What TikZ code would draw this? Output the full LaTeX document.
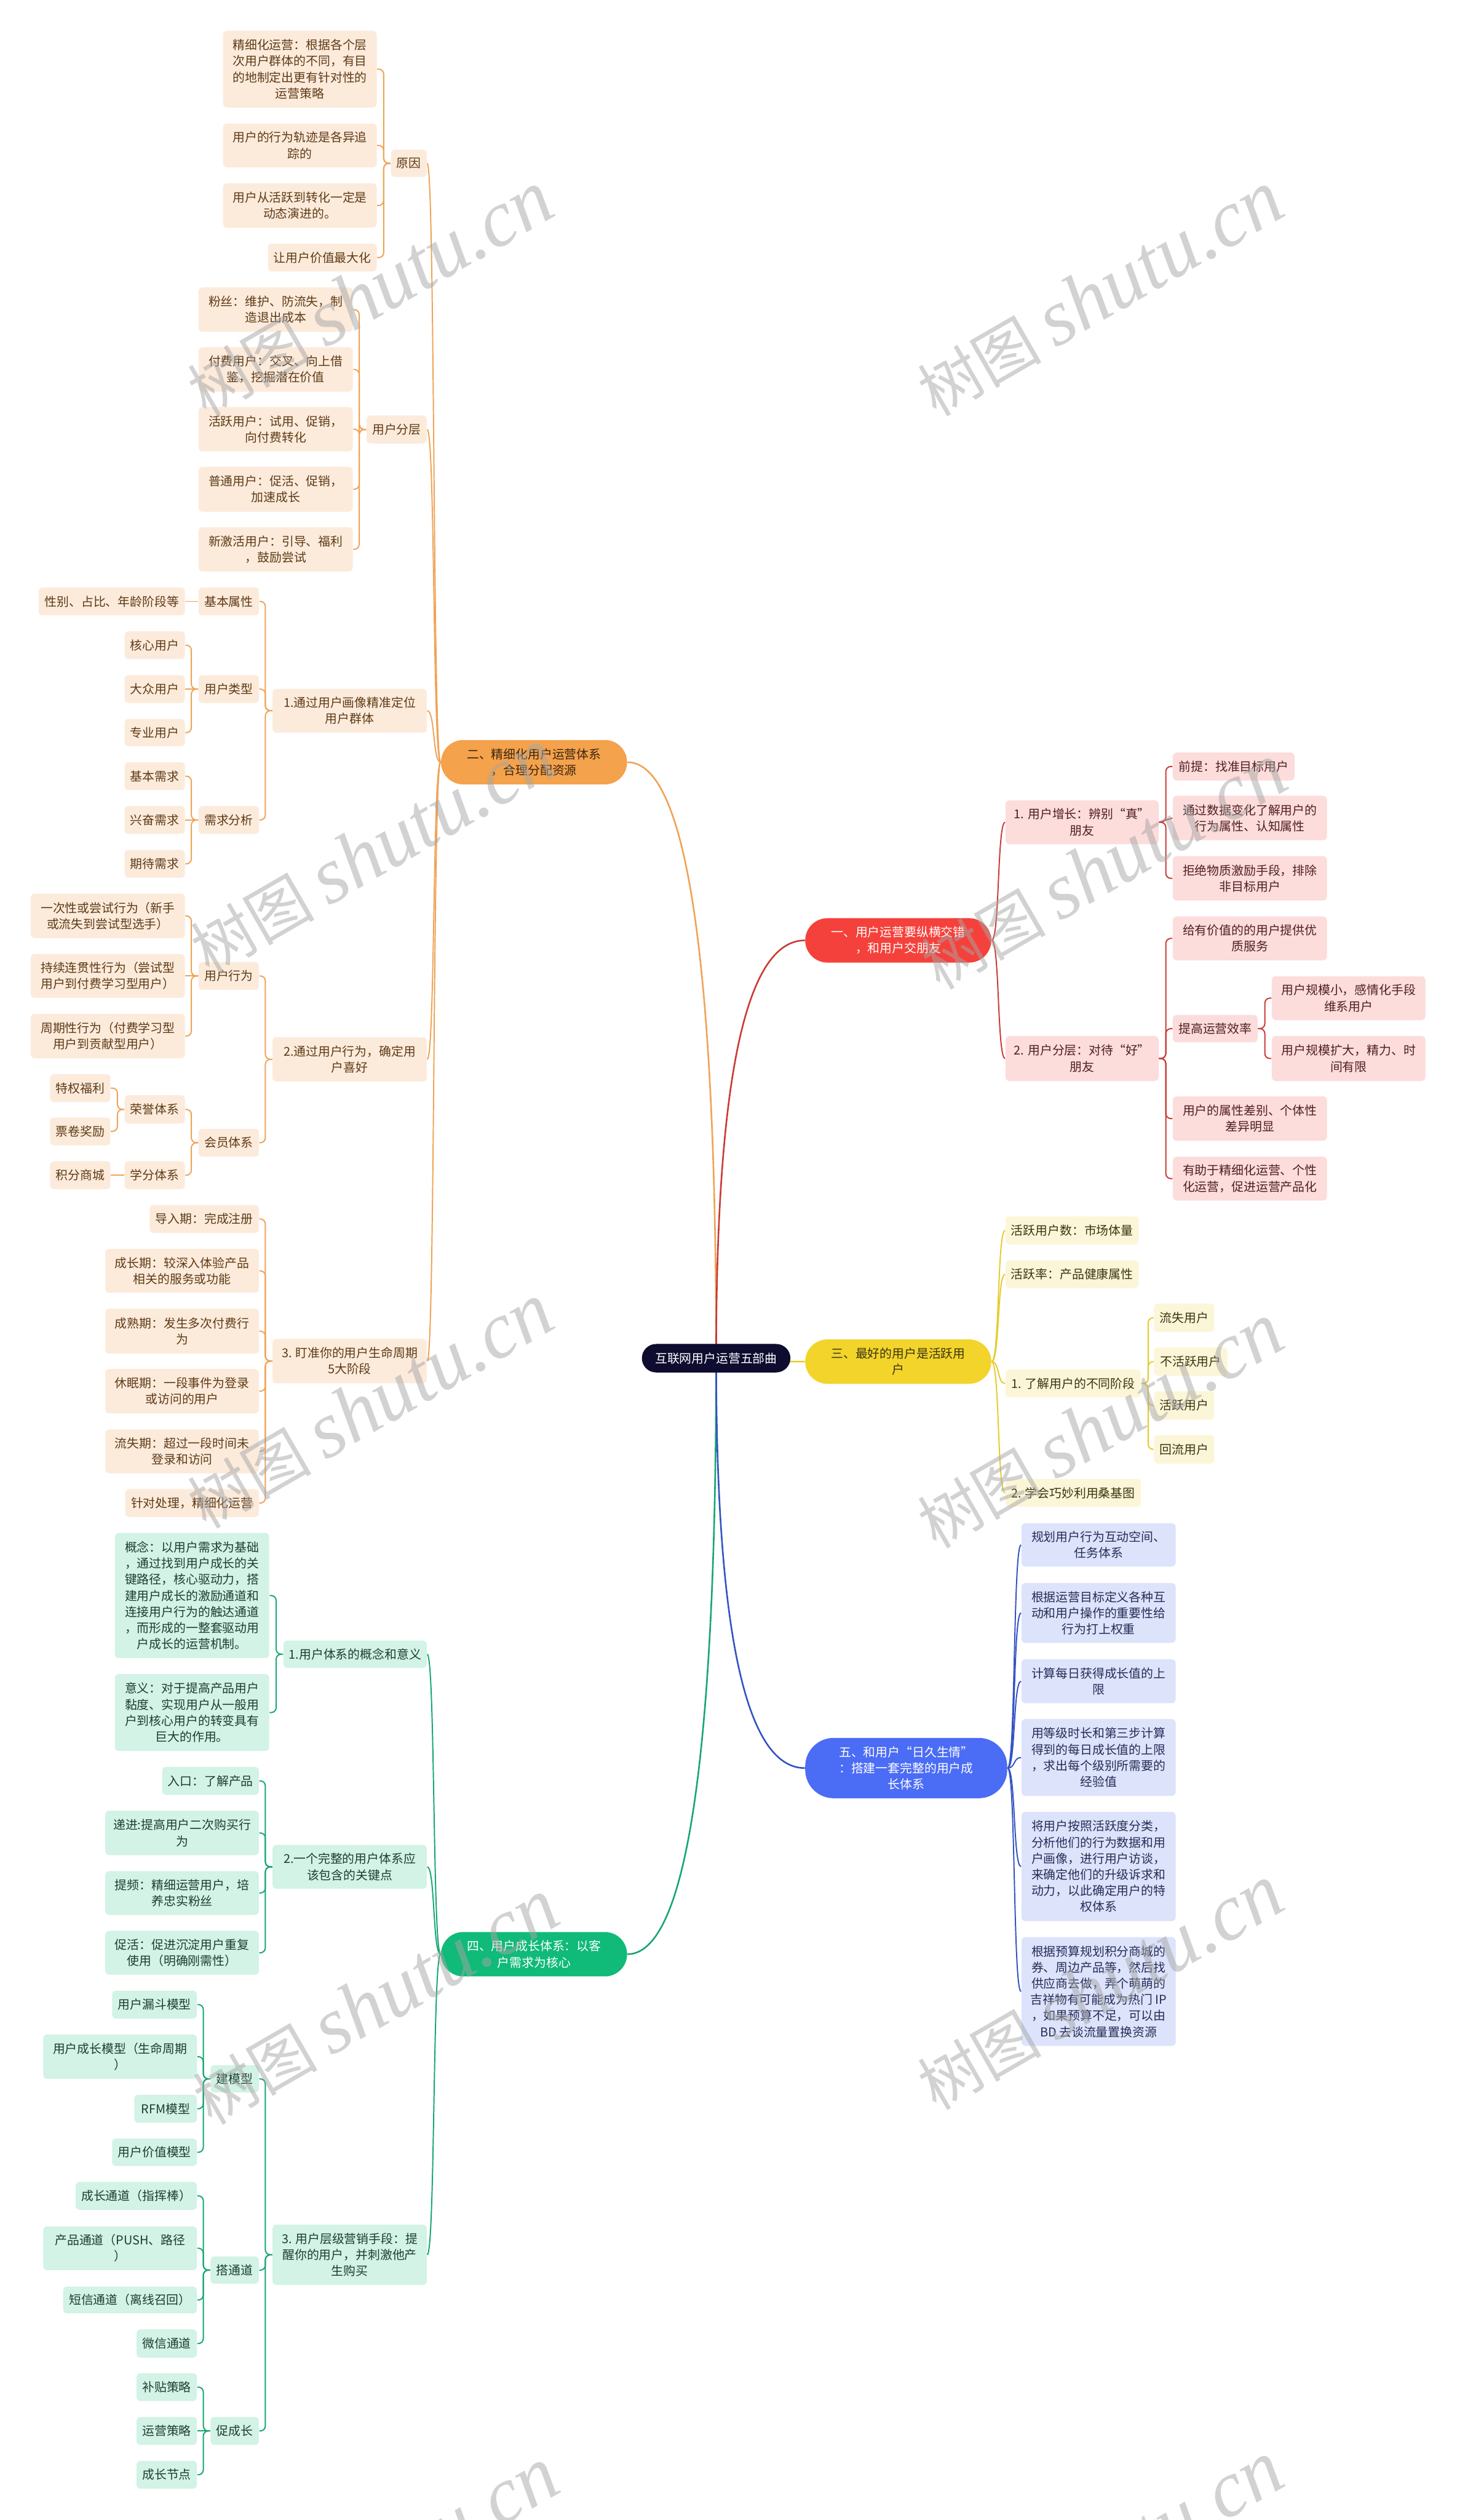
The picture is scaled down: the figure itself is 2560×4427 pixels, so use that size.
\documentclass[tikz,border=0pt]{standalone}
\usepackage{fontspec}
\setmainfont{Noto Sans CJK SC}
\newfontfamily\wmlatin{Liberation Serif}
\usetikzlibrary{calc}
\pgfdeclarelayer{bg}
\pgfsetlayers{bg,main}
\definecolor{oMain}{HTML}{F4A24B}
\definecolor{oLeaf}{HTML}{FCEBDB}
\definecolor{oText}{HTML}{5E3A17}
\definecolor{oDark}{HTML}{3B2410}
\definecolor{oLine}{HTML}{EFA356}
\definecolor{rMain}{HTML}{F5413B}
\definecolor{rLeaf}{HTML}{FDDCDC}
\definecolor{rText}{HTML}{4F1F1F}
\definecolor{rLine}{HTML}{C93A33}
\definecolor{yMain}{HTML}{F2D42B}
\definecolor{yLeaf}{HTML}{FCF6D8}
\definecolor{yText}{HTML}{3A3510}
\definecolor{yLine}{HTML}{E6CB2C}
\definecolor{gMain}{HTML}{10BA79}
\definecolor{gLeaf}{HTML}{D2F3E5}
\definecolor{gText}{HTML}{1F3D32}
\definecolor{gLine}{HTML}{16A673}
\definecolor{bMain}{HTML}{4B6CF5}
\definecolor{bLeaf}{HTML}{DCE3FB}
\definecolor{bText}{HTML}{262C55}
\definecolor{bLine}{HTML}{3352C4}
\definecolor{rootC}{HTML}{0E0C2F}
\newcommand\mnode[7]{\node[#2, minimum width={(#5-#3)*0.01cm}, minimum height={(#6-#4)*0.01cm}] (#1) at ({(#3+#5)/2},{(#4+#6)/2}) {#7};}
\newcommand\linkLB[3]{\draw[#1, rounded corners=2.5pt] (#2.west) -- ++(-12,0) |- (#3.east);}
\newcommand\linkRB[3]{\draw[#1, rounded corners=2.5pt] (#2.east) -- ++(12,0) |- (#3.west);}
\newcommand\linkLS[3]{\draw[#1] (#2.west) -- (#3.east);}
\newcommand\linkRS[3]{\draw[#1] (#2.east) -- (#3.west);}
\newcommand\linkLC[3]{\draw[#1] (#2.west) .. controls ([xshift=-0.14cm]#2.west) and ([xshift=0.14cm]#3.east) .. (#3.east);}
\newcommand\linkRC[3]{\draw[#1] (#2.east) .. controls ([xshift=0.14cm]#2.east) and ([xshift=-0.14cm]#3.west) .. (#3.west);}
\newcommand\linkRoot[2]{\draw[draw=#1, line width=0.8pt] (root.center) .. controls ($(root.center)!0.667!(root.center|-#2)$) and ($(#2)!0.667!(root.center|-#2)$) .. (#2);}
\newcommand\wmark[3]{\node[rotate=30, text=black!35, opacity=0.5, inner sep=0pt] (#1) at (#2,#3) {\fontsize{31}{31}\selectfont 树图 {\wmlatin\itshape\fontsize{40}{40}\selectfont shutu.cn}};}
\begin{document}
\begin{tikzpicture}[x=0.01cm, y=-0.01cm,
  box/.style={inner sep=0pt, align=center, font=\fontsize{6.1}{8.05}\selectfont, rounded corners=0.07cm},
  ol/.style={box, fill=oLeaf, text=oText},
  rl/.style={box, fill=rLeaf, text=rText},
  yl/.style={box, fill=yLeaf, text=yText},
  gl/.style={box, fill=gLeaf, text=gText},
  bl/.style={box, fill=bLeaf, text=bText},
  om/.style={box, fill=oMain, text=oDark, rounded corners=0.39cm},
  rm/.style={box, fill=rMain, text=white, rounded corners=0.39cm},
  ym/.style={box, fill=yMain, text=yText, rounded corners=0.39cm},
  gm/.style={box, fill=gMain, text=white, rounded corners=0.39cm},
  bm/.style={box, fill=bMain, text=white, rounded corners=0.5cm},
  rootm/.style={box, fill=rootC, text=white, rounded corners=0.25cm},
  oc/.style={draw=oLine, line width=0.6pt},
  rc/.style={draw=rLine, line width=0.6pt},
  yc/.style={draw=yLine, line width=0.6pt},
  gc/.style={draw=gLine, line width=0.6pt},
  bc/.style={draw=bLine, line width=0.6pt}]
\begin{pgfonlayer}{bg}
\fill[white] (0,0) rectangle (2560,4427);
\end{pgfonlayer}
\path[use as bounding box] (0,0) rectangle (2560,4427);

% root
\mnode{root}{rootm}{1128}{2361}{1389}{2411}{互联网用户运营五部曲}

% ===== orange branch =====
\mnode{o0}{om}{775}{1300}{1102}{1378}{二、精细化用户运营体系\\，合理分配资源}
\mnode{oA}{ol}{687}{263}{750}{311}{原因}
\mnode{oA1}{ol}{392}{54}{662}{189}{精细化运营：根据各个层\\次用户群体的不同，有目\\的地制定出更有针对性的\\运营策略}
\mnode{oA2}{ol}{392}{217}{662}{294}{用户的行为轨迹是各异追\\踪的}
\mnode{oA3}{ol}{392}{322}{662}{400}{用户从活跃到转化一定是\\动态演进的。}
\mnode{oA4}{ol}{471}{428}{662}{477}{让用户价值最大化}
\mnode{oB}{ol}{644}{730}{750}{779}{用户分层}
\mnode{oB1}{ol}{349}{505}{620}{583}{粉丝：维护、防流失，制\\造退出成本}
\mnode{oB2}{ol}{349}{610}{620}{688}{付费用户：交叉、向上借\\鉴，挖掘潜在价值}
\mnode{oB3}{ol}{349}{715}{620}{793}{活跃用户：试用、促销，\\向付费转化}
\mnode{oB4}{ol}{349}{820}{620}{899}{普通用户：促活、促销，\\加速成长}
\mnode{oB5}{ol}{349}{926}{620}{1004}{新激活用户：引导、福利\\，鼓励尝试}
\mnode{oC}{ol}{479}{1210}{750}{1287}{1.通过用户画像精准定位\\用户群体}
\mnode{oC1}{ol}{349}{1032}{455}{1081}{基本属性}
\mnode{oC1a}{ol}{68}{1032}{325}{1081}{性别、占比、年龄阶段等}
\mnode{oC2}{ol}{349}{1186}{455}{1235}{用户类型}
\mnode{oC2a}{ol}{219}{1109}{325}{1158}{核心用户}
\mnode{oC2b}{ol}{219}{1186}{325}{1235}{大众用户}
\mnode{oC2c}{ol}{219}{1263}{325}{1311}{专业用户}
\mnode{oC3}{ol}{349}{1416}{455}{1465}{需求分析}
\mnode{oC3a}{ol}{219}{1339}{325}{1388}{基本需求}
\mnode{oC3b}{ol}{219}{1416}{325}{1465}{兴奋需求}
\mnode{oC3c}{ol}{219}{1493}{325}{1542}{期待需求}
\mnode{oD}{ol}{479}{1822}{750}{1900}{2.通过用户行为，确定用\\户喜好}
\mnode{oD1}{ol}{349}{1690}{455}{1739}{用户行为}
\mnode{oD1a}{ol}{54}{1570}{325}{1648}{一次性或尝试行为（新手\\或流失到尝试型选手）}
\mnode{oD1b}{ol}{54}{1676}{325}{1753}{持续连贯性行为（尝试型\\用户到付费学习型用户）}
\mnode{oD1c}{ol}{54}{1781}{325}{1859}{周期性行为（付费学习型\\用户到贡献型用户）}
\mnode{oD2}{ol}{349}{1983}{455}{2032}{会员体系}
\mnode{oD2a}{ol}{219}{1924}{325}{1974}{荣誉体系}
\mnode{oD2a1}{ol}{88}{1887}{194}{1936}{特权福利}
\mnode{oD2a2}{ol}{88}{1963}{194}{2012}{票卷奖励}
\mnode{oD2b}{ol}{219}{2040}{325}{2089}{学分体系}
\mnode{oD2b1}{ol}{88}{2040}{194}{2089}{积分商城}
\mnode{oE}{ol}{479}{2352}{750}{2430}{3. 盯准你的用户生命周期\\5大阶段}
\mnode{oE1}{ol}{263}{2117}{455}{2166}{导入期：完成注册}
\mnode{oE2}{ol}{185}{2194}{455}{2271}{成长期：较深入体验产品\\相关的服务或功能}
\mnode{oE3}{ol}{185}{2299}{455}{2378}{成熟期：发生多次付费行\\为}
\mnode{oE4}{ol}{185}{2405}{455}{2483}{休眠期：一段事件为登录\\或访问的用户}
\mnode{oE5}{ol}{185}{2511}{455}{2588}{流失期：超过一段时间未\\登录和访问}
\mnode{oE6}{ol}{220}{2616}{455}{2665}{针对处理，精细化运营}

% ===== green branch =====
\mnode{g0}{gm}{775}{3394}{1102}{3472}{四、用户成长体系：以客\\户需求为核心}
\mnode{gA}{gl}{498}{2882}{750}{2930}{1.用户体系的概念和意义}
\mnode{gA1}{gl}{202}{2693}{473}{2913}{概念：以用户需求为基础\\，通过找到用户成长的关\\键路径，核心驱动力，搭\\建用户成长的激励通道和\\连接用户行为的触达通道\\，而形成的一整套驱动用\\户成长的运营机制。}
\mnode{gA2}{gl}{202}{2941}{473}{3076}{意义：对于提高产品用户\\黏度、实现用户从一般用\\户到核心用户的转变具有\\巨大的作用。}
\mnode{gB}{gl}{479}{3241}{750}{3318}{2.一个完整的用户体系应\\该包含的关键点}
\mnode{gB1}{gl}{285}{3104}{455}{3153}{入口：了解产品}
\mnode{gB2}{gl}{185}{3181}{455}{3259}{递进:提高用户二次购买行\\为}
\mnode{gB3}{gl}{185}{3287}{455}{3364}{提频：精细运营用户，培\\养忠实粉丝}
\mnode{gB4}{gl}{185}{3392}{455}{3469}{促活：促进沉淀用户重复\\使用（明确刚需性）}
\mnode{gC}{gl}{479}{3908}{750}{4014}{3. 用户层级营销手段：提\\醒你的用户，并刺激他产\\生购买}
\mnode{gC1}{gl}{370}{3628}{455}{3676}{建模型}
\mnode{gC1a}{gl}{197}{3497}{346}{3546}{用户漏斗模型}
\mnode{gC1b}{gl}{76}{3574}{346}{3652}{用户成长模型（生命周期\\）}
\mnode{gC1c}{gl}{236}{3680}{346}{3729}{RFM模型}
\mnode{gC1d}{gl}{197}{3757}{346}{3805}{用户价值模型}
\mnode{gC2}{gl}{370}{3964}{455}{4012}{搭通道}
\mnode{gC2a}{gl}{133}{3833}{346}{3882}{成长通道（指挥棒）}
\mnode{gC2b}{gl}{76}{3911}{346}{3988}{产品通道（PUSH、路径\\）}
\mnode{gC2c}{gl}{111}{4017}{346}{4064}{短信通道（离线召回）}
\mnode{gC2d}{gl}{240}{4092}{346}{4142}{微信通道}
\mnode{gC3}{gl}{370}{4246}{455}{4295}{促成长}
\mnode{gC3a}{gl}{240}{4169}{346}{4218}{补贴策略}
\mnode{gC3b}{gl}{240}{4246}{346}{4295}{运营策略}
\mnode{gC3c}{gl}{240}{4323}{346}{4372}{成长节点}

% ===== red branch =====
\mnode{r0}{rm}{1415}{1613}{1742}{1691}{一、用户运营要纵横交错\\，和用户交朋友}
\mnode{rA}{rl}{1767}{1406}{2036}{1483}{1. 用户增长：辨别“真”\\朋友}
\mnode{rA1}{rl}{2061}{1322}{2275}{1371}{前提：找准目标用户}
\mnode{rA2}{rl}{2061}{1398}{2332}{1476}{通过数据变化了解用户的\\行为属性、认知属性}
\mnode{rA3}{rl}{2061}{1504}{2332}{1582}{拒绝物质激励手段，排除\\非目标用户}
\mnode{rB}{rl}{1767}{1820}{2036}{1899}{2. 用户分层：对待“好”\\朋友}
\mnode{rB1}{rl}{2061}{1610}{2332}{1687}{给有价值的的用户提供优\\质服务}
\mnode{rB2}{rl}{2061}{1783}{2210}{1831}{提高运营效率}
\mnode{rB2a}{rl}{2235}{1715}{2505}{1792}{用户规模小，感情化手段\\维系用户}
\mnode{rB2b}{rl}{2235}{1820}{2505}{1899}{用户规模扩大，精力、时\\间有限}
\mnode{rB3}{rl}{2061}{1926}{2332}{2004}{用户的属性差别、个体性\\差异明显}
\mnode{rB4}{rl}{2061}{2032}{2332}{2109}{有助于精细化运营、个性\\化运营，促进运营产品化}

% ===== yellow branch =====
\mnode{y0}{ym}{1415}{2353}{1742}{2431}{三、最好的用户是活跃用\\户}
\mnode{yA}{yl}{1767}{2137}{2001}{2186}{活跃用户数：市场体量}
\mnode{yB}{yl}{1767}{2214}{2001}{2263}{活跃率：产品健康属性}
\mnode{yC}{yl}{1767}{2406}{2005}{2455}{1. 了解用户的不同阶段}
\mnode{yC1}{yl}{2028}{2290}{2134}{2340}{流失用户}
\mnode{yC2}{yl}{2028}{2367}{2157}{2417}{不活跃用户}
\mnode{yC3}{yl}{2028}{2444}{2134}{2494}{活跃用户}
\mnode{yC4}{yl}{2028}{2521}{2134}{2571}{回流用户}
\mnode{yD}{yl}{1767}{2598}{2005}{2647}{2. 学会巧妙利用桑基图}

% ===== blue branch =====
\mnode{b0}{bm}{1415}{3053}{1770}{3159}{五、和用户“日久生情”\\：搭建一套完整的用户成\\长体系}
\mnode{b1}{bl}{1795}{2676}{2066}{2752}{规划用户行为互动空间、\\任务体系}
\mnode{b2}{bl}{1795}{2781}{2066}{2886}{根据运营目标定义各种互\\动和用户操作的重要性给\\行为打上权重}
\mnode{b3}{bl}{1795}{2915}{2066}{2992}{计算每日获得成长值的上\\限}
\mnode{b4}{bl}{1795}{3020}{2066}{3155}{用等级时长和第三步计算\\得到的每日成长值的上限\\，求出每个级别所需要的\\经验值}
\mnode{b5}{bl}{1795}{3183}{2066}{3375}{将用户按照活跃度分类，\\分析他们的行为数据和用\\户画像，进行用户访谈，\\来确定他们的升级诉求和\\动力，以此确定用户的特\\权体系}
\mnode{b6}{bl}{1795}{3403}{2066}{3594}{根据预算规划积分商城的\\券、周边产品等，然后找\\供应商去做，弄个萌萌的\\吉祥物有可能成为热门 IP\\，如果预算不足，可以由\\BD 去谈流量置换资源}

% ===== connectors =====
\begin{pgfonlayer}{bg}
\linkRoot{oLine}{o0.east}
\linkRoot{rLine}{r0.west}
\linkRoot{yLine}{y0.west}
\linkRoot{gLine}{g0.east}
\linkRoot{bLine}{b0.west}
% orange
\foreach \c in {oA,oB,oC,oD,oE} {\linkLC{oc}{o0}{\c}}
\foreach \c in {oA1,oA2,oA3,oA4} {\linkLB{oc}{oA}{\c}}
\foreach \c in {oB1,oB2,oB3,oB4,oB5} {\linkLB{oc}{oB}{\c}}
\foreach \c in {oC1,oC2,oC3} {\linkLB{oc}{oC}{\c}}
\linkLS{oc}{oC1}{oC1a}
\linkLB{oc}{oC2}{oC2a}
\linkLS{oc}{oC2}{oC2b}
\linkLB{oc}{oC2}{oC2c}
\linkLB{oc}{oC3}{oC3a}
\linkLS{oc}{oC3}{oC3b}
\linkLB{oc}{oC3}{oC3c}
\linkLB{oc}{oD}{oD1}
\linkLB{oc}{oD}{oD2}
\linkLB{oc}{oD1}{oD1a}
\linkLS{oc}{oD1}{oD1b}
\linkLB{oc}{oD1}{oD1c}
\linkLB{oc}{oD2}{oD2a}
\linkLB{oc}{oD2}{oD2b}
\linkLB{oc}{oD2a}{oD2a1}
\linkLB{oc}{oD2a}{oD2a2}
\linkLS{oc}{oD2b}{oD2b1}
\foreach \c in {oE1,oE2,oE3,oE4,oE5,oE6} {\linkLB{oc}{oE}{\c}}
% green
\foreach \c in {gA,gB,gC} {\linkLC{gc}{g0}{\c}}
\linkLB{gc}{gA}{gA1}
\linkLB{gc}{gA}{gA2}
\foreach \c in {gB1,gB2,gB3,gB4} {\linkLB{gc}{gB}{\c}}
\foreach \c in {gC1,gC2,gC3} {\linkLB{gc}{gC}{\c}}
\foreach \c in {gC1a,gC1b,gC1c,gC1d} {\linkLB{gc}{gC1}{\c}}
\foreach \c in {gC2a,gC2b,gC2c,gC2d} {\linkLB{gc}{gC2}{\c}}
\linkLB{gc}{gC3}{gC3a}
\linkLS{gc}{gC3}{gC3b}
\linkLB{gc}{gC3}{gC3c}
% red
\linkRC{rc}{r0}{rA}
\linkRC{rc}{r0}{rB}
\linkRB{rc}{rA}{rA1}
\linkRS{rc}{rA}{rA2}
\linkRB{rc}{rA}{rA3}
\foreach \c in {rB1,rB2,rB3,rB4} {\linkRB{rc}{rB}{\c}}
\linkRB{rc}{rB2}{rB2a}
\linkRB{rc}{rB2}{rB2b}
% yellow
\foreach \c in {yA,yB,yC,yD} {\linkRC{yc}{y0}{\c}}
\foreach \c in {yC1,yC2,yC3,yC4} {\linkRB{yc}{yC}{\c}}
% blue
\foreach \c in {b1,b2,b3,b4,b5,b6} {\linkRC{bc}{b0}{\c}}
\end{pgfonlayer}

% ===== watermark =====
\wmark{wm1}{650}{516}
\wmark{wm2}{1933}{516}
\wmark{wm3}{655}{1496}
\wmark{wm4}{1940}{1523}
\wmark{wm5}{650}{2470}
\wmark{wm6}{1933}{2505}
\wmark{wm7}{660}{3517}
\wmark{wm8}{1933}{3492}
\wmark{wm9}{660}{4515}
\wmark{wm10}{1933}{4505}
\end{tikzpicture}
\end{document}
